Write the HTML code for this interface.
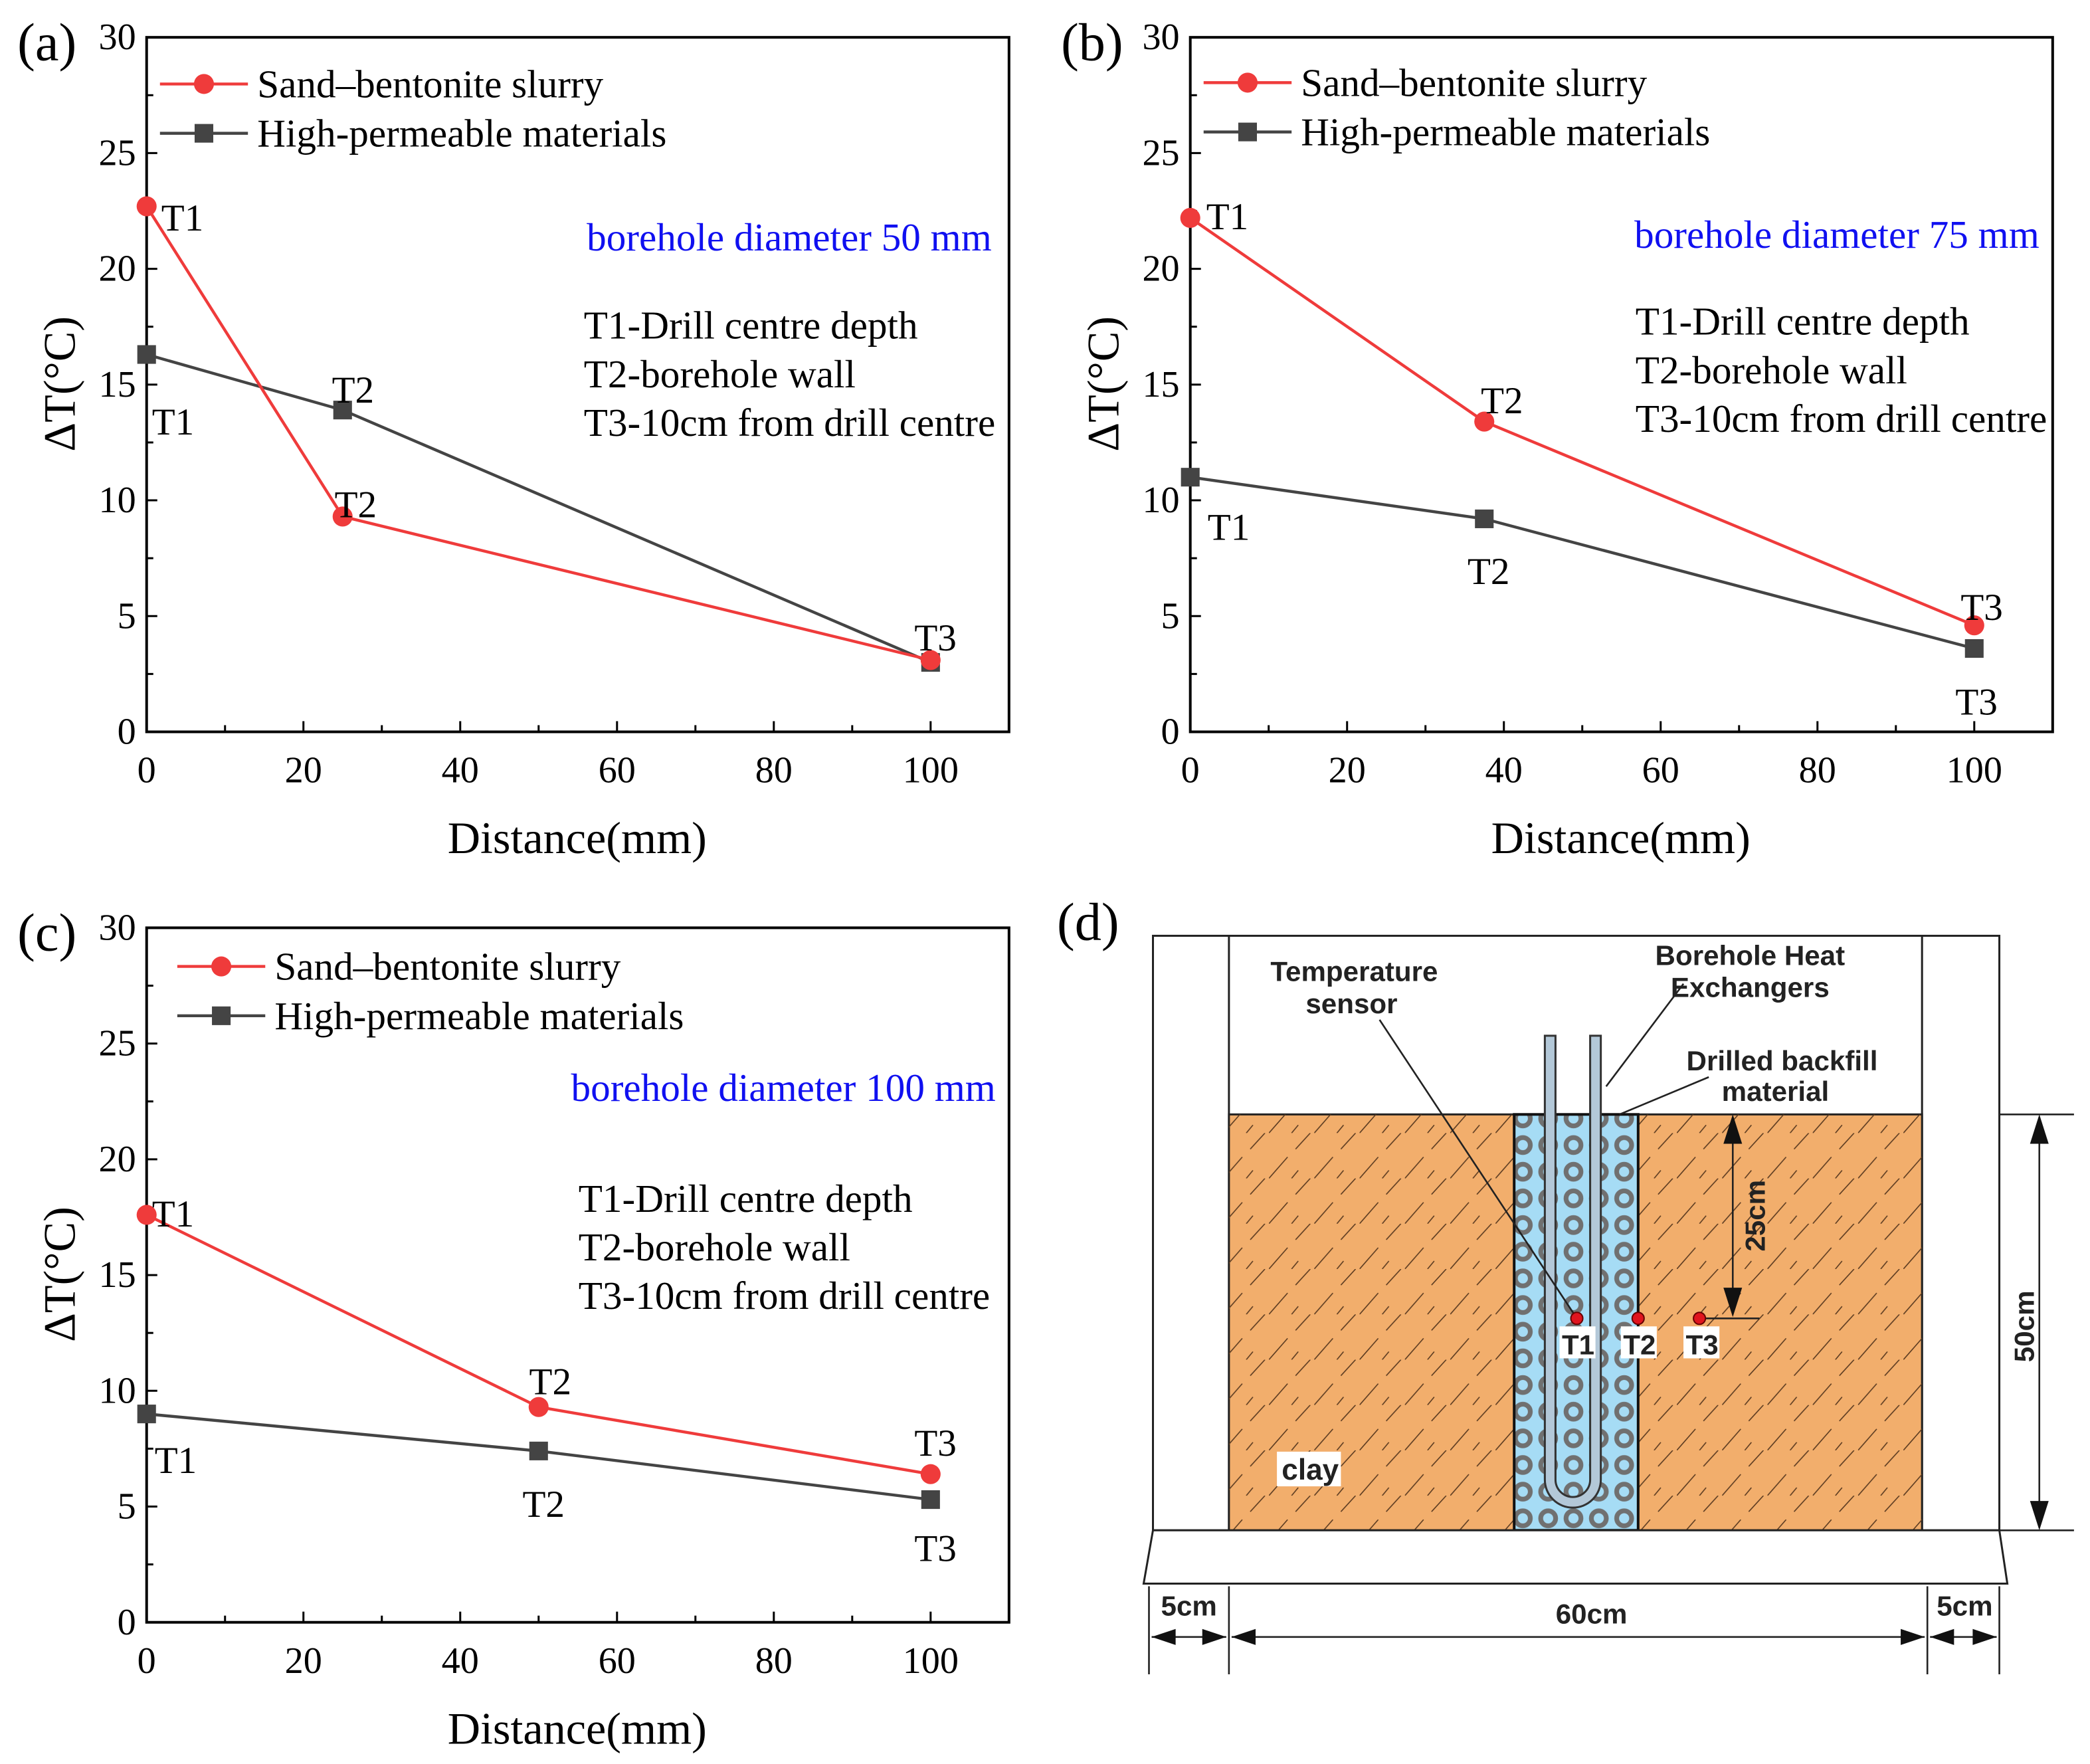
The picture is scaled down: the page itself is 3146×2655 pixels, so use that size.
<!DOCTYPE html>
<html><head><meta charset="utf-8"><style>
html,body{margin:0;padding:0;background:#fff}
svg{display:block}
text{font-family:"Liberation Serif",serif}
.s{font-family:"Liberation Sans",sans-serif;font-weight:bold}
</style></head><body>
<svg id="fig" xmlns="http://www.w3.org/2000/svg" width="3146" height="2655" viewBox="0 0 1568 1323.3">
<defs>
<pattern id="hatch" patternUnits="userSpaceOnUse" width="34" height="34">
<line x1="0" y1="34" x2="14" y2="18" stroke="#5a3a20" stroke-width="0.8"/>
<line x1="20" y1="12" x2="31" y2="0" stroke="#5a3a20" stroke-width="0.8"/>
<line x1="17" y1="34" x2="22" y2="28" stroke="#5a3a20" stroke-width="0.8"/>
</pattern>
<pattern id="rings" patternUnits="userSpaceOnUse" x="1133" y="829" width="19" height="20">
<rect width="19" height="20" fill="#a6dcf5"/>
<circle cx="9.5" cy="10" r="5.6" fill="none" stroke="#707070" stroke-width="3.6"/>
</pattern>
</defs>
<g id="charts"></g>
<g id="diagram">
<text x="793" y="705" font-size="40">(d)</text>
<rect x="865" y="702" width="635" height="446" fill="#fff" stroke="#222" stroke-width="1.5"/>
<line x1="922" y1="702" x2="922" y2="1148" stroke="#222" stroke-width="1.5"/>
<line x1="1442" y1="702" x2="1442" y2="1148" stroke="#222" stroke-width="1.5"/>
<rect x="922" y="836" width="520" height="312" fill="#f2ae6c" stroke="#222" stroke-width="1.5"/>
<rect x="922" y="836" width="520" height="312" fill="url(#hatch)"/>
<rect x="1136" y="836" width="93" height="312" fill="url(#rings)" stroke="#111" stroke-width="2"/>
<path d="M1159 777 V1110 A21 21 0 0 0 1201 1110 V777 H1193 V1110 A13 13 0 0 1 1167 1110 V777 Z" fill="#b3c8d8" stroke="#333" stroke-width="1.5"/>
<polygon points="865,1148 1500,1148 1506,1188 858,1188" fill="#fff" stroke="#222" stroke-width="1.5"/>
<g stroke="#222" stroke-width="1.3" fill="none">
<line x1="1035" y1="765" x2="1183" y2="989"/>
<line x1="1263" y1="738" x2="1205" y2="815"/>
<line x1="1282" y1="808" x2="1215" y2="836"/>
<line x1="1275" y1="989" x2="1320" y2="989"/>
<line x1="1300" y1="846" x2="1300" y2="980"/>
<line x1="1500" y1="836" x2="1556" y2="836"/>
<line x1="1500" y1="1148" x2="1556" y2="1148"/>
<line x1="1530" y1="846" x2="1530" y2="1138"/>
<line x1="862" y1="1190" x2="862" y2="1256"/>
<line x1="922" y1="1190" x2="922" y2="1256"/>
<line x1="1446" y1="1190" x2="1446" y2="1256"/>
<line x1="1500" y1="1190" x2="1500" y2="1256"/>
<line x1="864" y1="1228" x2="920" y2="1228"/>
<line x1="924" y1="1228" x2="1444" y2="1228"/>
<line x1="1448" y1="1228" x2="1498" y2="1228"/>
</g>
<g fill="#111">
<polygon points="1300,836 1293,858 1307,858"/><polygon points="1300,988 1293,966 1307,966"/>
<polygon points="1530,836 1523,858 1537,858"/><polygon points="1530,1148 1523,1126 1537,1126"/>
<polygon points="864,1228 882,1222 882,1234"/><polygon points="920,1228 902,1222 902,1234"/>
<polygon points="924,1228 942,1222 942,1234"/><polygon points="1444,1228 1426,1222 1426,1234"/>
<polygon points="1448,1228 1466,1222 1466,1234"/><polygon points="1498,1228 1480,1222 1480,1234"/>
</g>
<g fill="#e0141e" stroke="#600" stroke-width="1">
<circle cx="1183" cy="989" r="4.5"/>
<circle cx="1229" cy="989" r="4.5"/>
<circle cx="1275" cy="989" r="4.5"/>
</g>
<g class="s" font-size="21" fill="#222">
<rect x="1170" y="995" width="27" height="24" fill="#fff"/><text x="1184" y="1016" text-anchor="middle" class="s">T1</text>
<rect x="1216" y="995" width="27" height="24" fill="#fff"/><text x="1230" y="1016" text-anchor="middle" class="s">T2</text>
<rect x="1263" y="995" width="27" height="24" fill="#fff"/><text x="1277" y="1016" text-anchor="middle" class="s">T3</text>
<rect x="958" y="1089" width="48" height="26" fill="#fff"/><text x="983" y="1110" text-anchor="middle" class="s" font-size="22">clay</text>
<text x="1016" y="736" text-anchor="middle" class="s">Temperature</text>
<text x="1014" y="760" text-anchor="middle" class="s">sensor</text>
<text x="1313" y="724" text-anchor="middle" class="s">Borehole Heat</text>
<text x="1313" y="748" text-anchor="middle" class="s">Exchangers</text>
<text x="1337" y="803" text-anchor="middle" class="s">Drilled backfill</text>
<text x="1332" y="826" text-anchor="middle" class="s">material</text>
<text x="892" y="1212" text-anchor="middle" class="s">5cm</text>
<text x="1194" y="1218" text-anchor="middle" class="s">60cm</text>
<text x="1474" y="1212" text-anchor="middle" class="s">5cm</text>
<text transform="translate(1324,912) rotate(-90)" text-anchor="middle" class="s">25cm</text>
<text transform="translate(1526,995) rotate(-90)" text-anchor="middle" class="s">50cm</text>
</g>
</g>
</svg>
<script>
// Panel data
const xA = [0, 25, 100];
const redA = [22.7, 9.3, 3.1];
const blackA = [16.3, 13.9, 3.0];
const xB = [0, 37.5, 100];
const redB = [22.2, 13.4, 4.6];
const blackB = [11.0, 9.2, 3.6];
const xC = [0, 50, 100];
const redC = [17.6, 9.3, 6.4];
const blackC = [9.0, 7.4, 5.3];
const xTicks = [0, 20, 40, 60, 80, 100];
const yTicks = [0, 5, 10, 15, 20, 25, 30];
const seriesNames = ["Sand\u2013bentonite slurry", "High-permeable materials"];
const diameters = ["borehole diameter 50 mm", "borehole diameter 75 mm", "borehole diameter 100 mm"];
const noteLines = ["T1-Drill centre depth", "T2-borehole wall", "T3-10cm from drill centre"];
const pointLabels = ["T1", "T2", "T3"];

const NS = "http://www.w3.org/2000/svg";
const root = document.getElementById("charts");
function mk(tag, attrs, parent) {
  const e = document.createElementNS(NS, tag);
  for (const k in attrs) e.setAttribute(k, attrs[k]);
  (parent || root).appendChild(e);
  return e;
}
function txt(s, attrs, parent) { const t = mk("text", attrs, parent); t.textContent = s; return t; }

const panels = [
  {id:"a", L:110, T:28, xs:xA, red:redA, blk:blackA, legX:120, legY:63,
   blue:[744,188], notes:[438,254],
   rl:[[121,163],[251,378],[686,478]], bl:[[114,316],[249,292],null]},
  {id:"b", L:893, T:28, xs:xB, red:redB, blk:blackB, legX:903, legY:62,
   blue:[1530,186], notes:[1227,251],
   rl:[[905,162],[1111,300],[1471,455]], bl:[[906,395],[1101,428],[1467,526]]},
  {id:"c", L:110, T:696, xs:xC, red:redC, blk:blackC, legX:133, legY:725,
   blue:[747,826], notes:[434,909],
   rl:[[114,910],[397,1036],[686,1082]], bl:[[116,1095],[392,1128],[686,1161]]}
];
const W = 647, H = 521;
panels.forEach((p, i) => {
  const g = mk("g", {});
  
  
  const xs = v => p.L + v / 110 * W;
  const ys = v => p.T + H - v / 30 * H;
  const fr = mk("rect", {x:p.L, y:p.T, width:W, height:H, fill:"none", stroke:"#000", "stroke-width":2}, g);
  
  
  const pl = txt("(" + p.id + ")", {x:p.L - 97, y:p.T + 17, "font-size":40}, g);
  
  
  for (let v = 0; v <= 110; v += 10) {
    const major = v % 20 === 0;
    mk("line", {x1:xs(v), x2:xs(v), y1:p.T+H, y2:p.T+H-(major?8:5), stroke:"#000", "stroke-width":1.5}, g);
  }
  xTicks.forEach(v => {
    const t = txt(String(v), {x:xs(v), y:p.T+H+38, "font-size":28, "text-anchor":"middle"}, g);
    
    
  });
  for (let v = 0; v <= 30; v += 2.5) {
    const major = v % 5 === 0;
    mk("line", {x1:p.L, x2:p.L+(major?8:5), y1:ys(v), y2:ys(v), stroke:"#000", "stroke-width":1.5}, g);
  }
  yTicks.forEach(v => {
    const t = txt(String(v), {x:p.L-8, y:ys(v)+9, "font-size":28, "text-anchor":"end"}, g);
    
    
  });
  const xt = txt("Distance(mm)", {x:p.L+323, y:p.T+H+91, "font-size":34, "text-anchor":"middle"}, g);
  
  
  const yt = txt("\u0394T(\u00b0C)", {transform:"translate(" + (p.L-54) + "," + (p.T+260) + ") rotate(-90)", "font-size":34, "text-anchor":"middle"}, g);
  
  
  [[p.blk, "#444", "square", "high-permeable"], [p.red, "#ef3b3b", "circle", "sand-bentonite"]].forEach(([vals, col, shape, nm]) => {
    const pts = vals.map((v, k) => xs(p.xs[k]) + "," + ys(v)).join(" ");
    const ln = mk("polyline", {points:pts, fill:"none", stroke:col, "stroke-width":2.2}, g);
    
    
    vals.forEach((v, k) => {
      let m;
      if (shape === "circle") m = mk("circle", {cx:xs(p.xs[k]), cy:ys(v), r:7.5, fill:col}, g);
      else m = mk("rect", {x:xs(p.xs[k])-7, y:ys(v)-7, width:14, height:14, fill:col}, g);
      
      
    });
  });
  [["#ef3b3b","circle",0],["#444","square",1]].forEach(([col, shape, k]) => {
    const y = p.legY + k * 37;
    const lg = mk("g", {}, g);
    
    
    mk("line", {x1:p.legX, x2:p.legX+66, y1:y, y2:y, stroke:col, "stroke-width":2.2}, lg);
    if (shape === "circle") mk("circle", {cx:p.legX+33, cy:y, r:7.5, fill:col}, lg);
    else mk("rect", {x:p.legX+26, y:y-7, width:14, height:14, fill:col}, lg);
    txt(seriesNames[k], {x:p.legX+73, y:y+10, "font-size":29.5}, lg);
  });
  const bt = txt(diameters[i], {x:p.blue[0], y:p.blue[1], "font-size":29.5, fill:"#1010f0", "text-anchor":"end"}, g);
  
  
  noteLines.forEach((s, k) => {
    const nt = txt(s, {x:p.notes[0], y:p.notes[1] + k*36.5, "font-size":29.5}, g);
    
    
  });
  p.rl.forEach((q, k) => { if (q) { const t = txt(pointLabels[k], {x:q[0], y:q[1]+10, "font-size":28.5}, g);
    
     } });
  p.bl.forEach((q, k) => { if (q) { const t = txt(pointLabels[k], {x:q[0], y:q[1]+10, "font-size":28.5}, g);
    
     } });
});
</script>
</body></html>
